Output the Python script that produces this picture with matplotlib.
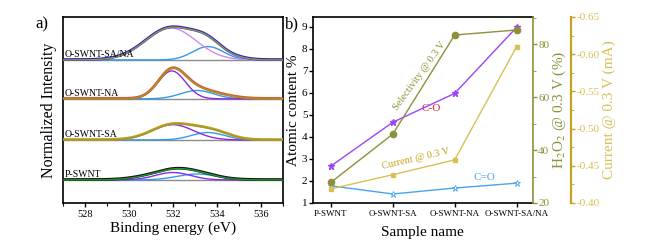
import numpy as np
import matplotlib.pyplot as plt
from matplotlib.ticker import MultipleLocator, AutoMinorLocator

plt.rcParams['font.family'] = ['Liberation Serif', 'DejaVu Serif']
plt.rcParams['mathtext.fontset'] = 'stix'

# ---- panel a: XPS O1s, fitted peaks (centre eV, height, sigma) ----
samples_a = ["P-SWNT", "O-SWNT-SA", "O-SWNT-NA", "O-SWNT-SA/NA"]
offsets_a = [0.124, 0.339, 0.560, 0.769]
peak_co = [(532.0, 0.040, 0.80), (532.0, 0.082, 0.95), (531.95, 0.150, 0.62), (531.9, 0.172, 1.15)]
peak_c2o = [(533.1, 0.032, 0.90), (533.6, 0.040, 0.75), (533.1, 0.045, 0.75), (533.6, 0.072, 0.70)]
peak_extra = [(530.8, 0.013, 0.80), (534.4, 0.010, 0.60), (534.3, 0.012, 0.70), (535.0, 0.006, 0.50)]
co_colors = ["#8a2be2", "#8a2be2", "#8a2be2", "#cc88ee"]
data_colors = ["#111111", "#c9a020", "#e0562a", "#2222dd"]
fit_colors = ["#1f9a2a", "#9a9a30", "#9a9a30", "#9a9a30"]

# ---- panel b ----
samples_b = ["P-SWNT", "O-SWNT-SA", "O-SWNT-NA", "O-SWNT-SA/NA"]
c_o = [2.68, 4.67, 5.98, 8.98]
c_eq_o = [1.78, 1.41, 1.68, 1.90]
selectivity = [27.8, 46.0, 83.4, 85.3]
current = [-0.419, -0.438, -0.458, -0.610]

PURPLE, LBLUE = "#9d45f5", "#45a5f0"
OLIVE, GOLD, GOLD_AX = "#8f8f3a", "#d8c055", "#c8a21e"

fig = plt.figure(figsize=(6.5, 2.5), dpi=100)
axa = fig.add_axes([0.097, 0.188, 0.338, 0.744])
axb = fig.add_axes([0.4815, 0.188, 0.338, 0.744])

def gauss(x, p):
    c, h, s = p
    return h * np.exp(-(x - c) ** 2 / (2 * s ** 2))

ev = np.linspace(527, 537, 600)
for i, name in enumerate(samples_a):
    b = offsets_a[i]
    g1 = gauss(ev, peak_co[i])
    g2 = gauss(ev, peak_c2o[i])
    g3 = gauss(ev, peak_extra[i])
    env = g1 + g2 + g3
    axa.plot(ev, np.full_like(ev, b), color="#8c8c8c", lw=1.0, zorder=2)
    axa.plot(ev, b + g2, color="#3399ee", lw=1.0, zorder=3)
    axa.plot(ev, b + g1, color=co_colors[i], lw=1.0, zorder=3)
    axa.plot(ev, b + env + 0.002, color=data_colors[i], lw=2.0, zorder=4)
    axa.plot(ev, b + env, color=fit_colors[i], lw=1.0, zorder=5)
    axa.text(527.08, b + 0.004, name, fontsize=7, ha="left", va="bottom", zorder=6)

axa.set_xlim(527, 537)
axa.set_ylim(0, 1)
axa.set_yticks([])
axa.xaxis.set_major_locator(MultipleLocator(2))
axa.xaxis.set_minor_locator(MultipleLocator(1))
axa.tick_params(axis="x", which="major", length=3, width=1, labelsize=7.5, pad=2)
axa.tick_params(axis="x", which="minor", length=2, width=0.8)
for s in axa.spines.values():
    s.set_linewidth(1.2)
axa.set_xlabel("Binding energy (eV)", fontsize=11, labelpad=2)
axa.set_ylabel("Normalized Intensity", fontsize=11.5, labelpad=4)
fig.text(0.055, 0.885, "a)", fontsize=12)

# ---- panel b ----
x = np.arange(len(samples_b))
axb.plot(x, c_o, color=PURPLE, lw=1.0, marker="*", ms=4.5, zorder=5)
axb.plot(x, c_eq_o, color=LBLUE, lw=1.0, marker="*", ms=5, mfc="white", mew=0.6, zorder=5)
axb.set_xlim(-0.29, 3.26)
axb.set_ylim(1, 9.45)
axb.set_xticks(x)
axb.set_xticklabels(samples_b, fontsize=6.5)
axb.yaxis.set_major_locator(MultipleLocator(1))
axb.tick_params(axis="x", length=3, width=1, pad=2)
axb.tick_params(axis="y", length=3, width=1, labelsize=8, pad=1)
for k in ("left", "bottom", "top"):
    axb.spines[k].set_linewidth(1.2)
axb.spines["right"].set_visible(False)
axb.set_xlabel("Sample name", fontsize=11, labelpad=6)
axb.set_ylabel("Atomic content %", fontsize=11, labelpad=1)
fig.text(0.438, 0.885, "b)", fontsize=12)

axh = axb.twinx()
axh.plot(x, selectivity, color=OLIVE, lw=1.0, marker="o", ms=4.5, zorder=4)
axh.set_ylim(20, 90.2)
axh.yaxis.set_major_locator(MultipleLocator(20))
axh.yaxis.set_minor_locator(MultipleLocator(10))
axh.tick_params(axis="y", colors=OLIVE, length=3, width=1, labelsize=8, pad=1)
axh.tick_params(axis="y", which="minor", colors=OLIVE, length=2)
for k in ("left", "bottom", "top"):
    axh.spines[k].set_visible(False)
axh.spines["right"].set_color(OLIVE)
axh.spines["right"].set_linewidth(1.2)
axh.set_ylabel(r"H$_2$O$_2$ @ 0.3 V (%)", color=OLIVE, fontsize=11, labelpad=1)

axc = axb.twinx()
axc.plot(x, current, color=GOLD, lw=1.0, marker="s", ms=2.5, zorder=4)
axc.set_ylim(-0.40, -0.65)
axc.spines["right"].set_position(("axes", 1.173))
for k in ("left", "bottom", "top"):
    axc.spines[k].set_visible(False)
axc.spines["right"].set_color(GOLD_AX)
axc.spines["right"].set_linewidth(1.6)
axc.yaxis.set_major_locator(MultipleLocator(0.05))
axc.yaxis.set_minor_locator(AutoMinorLocator(2))
axc.yaxis.set_major_formatter(plt.FormatStrFormatter("%.2f"))
axc.tick_params(axis="y", colors=GOLD_AX, length=3, width=1, labelsize=8, pad=1)
axc.tick_params(axis="y", which="minor", colors=GOLD_AX, length=2)
for t in axc.get_yticklabels():
    t.set_color(GOLD)
axc.set_ylabel("Current @ 0.3 V (mA)", color=GOLD, fontsize=11, labelpad=2)

axb.text(1.43, 6.75, "Selectivity @ 0.3 V", color=OLIVE, fontsize=7.5, rotation=54,
         ha="center", va="center", zorder=6)
axb.text(1.62, 5.3, "C-O", color="#e8202e", fontsize=8, ha="center", va="center")
axb.text(1.37, 3.0, "Current @ 0.3 V", color=GOLD_AX, fontsize=7.5, rotation=13,
         ha="center", va="center")
axb.text(2.48, 2.14, "C=O", color=LBLUE, fontsize=8, ha="center", va="center")

fig.savefig("out.png", dpi=100)
